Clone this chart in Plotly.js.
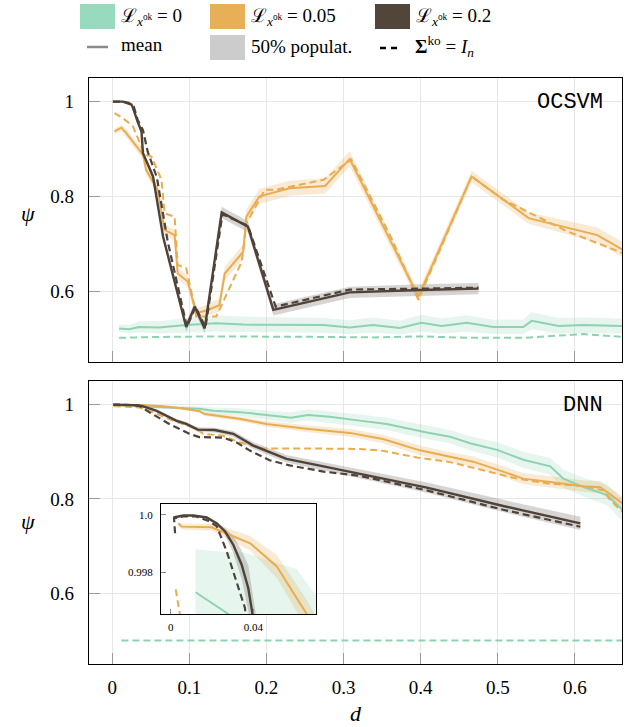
<!DOCTYPE html>
<html><head><meta charset="utf-8">
<script src="https://cdn.plot.ly/plotly-3.0.1.min.js"></script>
<style>html,body{margin:0;padding:0;background:#fff}</style>
</head><body>
<div id="chart" style="width:638px;height:727px"></div>
<script>
// ---------- tick labels ----------
const xTicks = [0, 0.1, 0.2, 0.3, 0.4, 0.5, 0.6];
const xTickText = ['0', '0.1', '0.2', '0.3', '0.4', '0.5', '0.6'];
const yTicks = [0.6, 0.8, 1.0];
const yTickText = ['0.6', '0.8', '1'];
const insetXTicks = [0, 0.04];
const insetXTickText = ['0', '0.04'];
const insetYTicks = [0.998, 1.0];
const insetYTickText = ['0.998', '1.0'];

// ---------- OCSVM panel ----------
const ocsvm_d_L0 = [0.009, 0.022, 0.035, 0.061, 0.096, 0.135, 0.170, 0.230, 0.274, 0.308, 0.338, 0.373, 0.401, 0.427, 0.460, 0.494, 0.533, 0.544, 0.579, 0.611, 0.662];
const ocsvm_mean_L0 = [0.521, 0.519, 0.524, 0.523, 0.528, 0.532, 0.529, 0.528, 0.528, 0.523, 0.528, 0.522, 0.533, 0.526, 0.533, 0.524, 0.524, 0.537, 0.526, 0.528, 0.526];
const ocsvm_lo_L0 = [0.514, 0.511, 0.513, 0.510, 0.512, 0.514, 0.513, 0.513, 0.512, 0.509, 0.512, 0.508, 0.514, 0.510, 0.514, 0.509, 0.509, 0.519, 0.510, 0.511, 0.510];
const ocsvm_hi_L0 = [0.529, 0.528, 0.536, 0.536, 0.543, 0.548, 0.546, 0.544, 0.543, 0.538, 0.544, 0.537, 0.550, 0.542, 0.549, 0.539, 0.540, 0.555, 0.543, 0.544, 0.542];
const ocsvm_d_L0_id = [0.009, 0.061, 0.135, 0.200, 0.274, 0.338, 0.401, 0.466, 0.533, 0.611, 0.662];
const ocsvm_id_L0 = [0.501, 0.503, 0.504, 0.504, 0.503, 0.502, 0.504, 0.501, 0.501, 0.509, 0.503];

const ocsvm_d_L05 = [0.003, 0.012, 0.018, 0.040, 0.044, 0.059, 0.068, 0.081, 0.085, 0.098, 0.109, 0.124, 0.139, 0.146, 0.170, 0.174, 0.191, 0.230, 0.276, 0.308, 0.397, 0.466, 0.540, 0.629, 0.662];
const ocsvm_mean_L05 = [0.937, 0.945, 0.934, 0.888, 0.856, 0.814, 0.729, 0.718, 0.637, 0.620, 0.553, 0.560, 0.570, 0.637, 0.683, 0.757, 0.800, 0.817, 0.822, 0.879, 0.588, 0.842, 0.754, 0.718, 0.687];
const ocsvm_lo_L05 = [0.931, 0.938, 0.926, 0.878, 0.846, 0.804, 0.717, 0.706, 0.625, 0.608, 0.543, 0.548, 0.556, 0.622, 0.668, 0.742, 0.784, 0.801, 0.806, 0.863, 0.576, 0.830, 0.742, 0.702, 0.671];
const ocsvm_hi_L05 = [0.943, 0.952, 0.942, 0.898, 0.866, 0.824, 0.741, 0.730, 0.649, 0.632, 0.563, 0.572, 0.584, 0.652, 0.698, 0.772, 0.816, 0.833, 0.838, 0.895, 0.600, 0.854, 0.766, 0.734, 0.703];
const ocsvm_d_L05_id = [0.003, 0.014, 0.027, 0.042, 0.051, 0.064, 0.068, 0.081, 0.085, 0.096, 0.105, 0.109, 0.135, 0.168, 0.174, 0.198, 0.213, 0.274, 0.310, 0.362, 0.397, 0.466, 0.507, 0.590, 0.662];
const ocsvm_id_L05 = [0.976, 0.965, 0.948, 0.888, 0.884, 0.835, 0.764, 0.757, 0.655, 0.648, 0.581, 0.546, 0.546, 0.662, 0.743, 0.814, 0.814, 0.835, 0.878, 0.712, 0.582, 0.842, 0.793, 0.726, 0.680];

const ocsvm_d_L2 = [0.001, 0.014, 0.025, 0.027, 0.033, 0.038, 0.040, 0.053, 0.066, 0.096, 0.107, 0.120, 0.142, 0.176, 0.209, 0.308, 0.400, 0.475];
const ocsvm_mean_L2 = [1.000, 1.000, 0.994, 0.987, 0.958, 0.937, 0.891, 0.842, 0.715, 0.524, 0.567, 0.521, 0.766, 0.736, 0.560, 0.597, 0.602, 0.605];
const ocsvm_lo_L2 = [0.999, 0.999, 0.992, 0.984, 0.954, 0.932, 0.885, 0.835, 0.707, 0.514, 0.557, 0.511, 0.754, 0.724, 0.548, 0.585, 0.590, 0.593];
const ocsvm_hi_L2 = [1.001, 1.001, 0.996, 0.990, 0.962, 0.942, 0.897, 0.849, 0.723, 0.534, 0.577, 0.531, 0.778, 0.748, 0.572, 0.609, 0.614, 0.617];
const ocsvm_d_L2_id = [0.001, 0.014, 0.022, 0.028, 0.033, 0.040, 0.046, 0.058, 0.072, 0.097, 0.108, 0.121, 0.143, 0.176, 0.212, 0.308, 0.400, 0.475];
const ocsvm_id_L2 = [1.000, 1.000, 0.997, 0.990, 0.962, 0.940, 0.895, 0.840, 0.705, 0.524, 0.567, 0.523, 0.762, 0.738, 0.567, 0.603, 0.605, 0.607];

// ---------- DNN panel ----------
const dnn_d_L0 = [0.012, 0.028, 0.035, 0.061, 0.069, 0.113, 0.131, 0.165, 0.200, 0.232, 0.254, 0.282, 0.321, 0.356, 0.408, 0.438, 0.464, 0.499, 0.533, 0.568, 0.585, 0.611, 0.642, 0.662];
const dnn_mean_L0 = [0.9973, 0.9965, 0.9962, 0.9951, 0.9943, 0.991, 0.987, 0.984, 0.978, 0.972, 0.978, 0.974, 0.966, 0.959, 0.941, 0.932, 0.918, 0.904, 0.883, 0.869, 0.843, 0.825, 0.808, 0.776];
const dnn_lo_L0 = [0.9958, 0.9943, 0.9937, 0.9921, 0.9913, 0.986, 0.980, 0.976, 0.968, 0.961, 0.966, 0.962, 0.953, 0.946, 0.927, 0.918, 0.903, 0.888, 0.866, 0.851, 0.824, 0.805, 0.786, 0.752];
const dnn_hi_L0 = [0.9988, 0.9987, 0.9987, 0.9981, 0.9973, 0.996, 0.994, 0.992, 0.988, 0.983, 0.990, 0.986, 0.979, 0.972, 0.955, 0.946, 0.933, 0.920, 0.900, 0.887, 0.862, 0.845, 0.830, 0.800];
const dnn_d_L0_id = [0.012, 0.1, 0.2, 0.3, 0.4, 0.5, 0.6, 0.662];
const dnn_id_L0 = [0.5, 0.5, 0.5, 0.5, 0.5, 0.5, 0.5, 0.5];

const dnn_d_L05 = [0.0037, 0.0053, 0.0198, 0.0271, 0.0384, 0.0513, 0.0658, 0.090, 0.113, 0.120, 0.165, 0.200, 0.252, 0.308, 0.351, 0.399, 0.434, 0.468, 0.503, 0.533, 0.568, 0.611, 0.633, 0.662];
const dnn_mean_L05 = [0.9997, 0.99959, 0.99957, 0.99936, 0.99901, 0.9982, 0.99653, 0.992, 0.986, 0.980, 0.970, 0.959, 0.949, 0.940, 0.927, 0.903, 0.890, 0.879, 0.860, 0.843, 0.836, 0.827, 0.825, 0.790];
const dnn_lo_L05 = [0.99965, 0.99949, 0.99945, 0.99918, 0.99876, 0.9978, 0.99603, 0.990, 0.983, 0.976, 0.965, 0.953, 0.942, 0.932, 0.918, 0.893, 0.880, 0.868, 0.849, 0.831, 0.824, 0.815, 0.812, 0.776];
const dnn_hi_L05 = [0.99975, 0.99969, 0.99969, 0.99954, 0.99926, 0.9986, 0.99703, 0.994, 0.989, 0.984, 0.975, 0.965, 0.956, 0.948, 0.936, 0.913, 0.900, 0.890, 0.871, 0.855, 0.848, 0.839, 0.838, 0.804];
const dnn_d_L05_id = [0.0024, 0.0045, 0.035, 0.048, 0.079, 0.109, 0.118, 0.144, 0.165, 0.196, 0.250, 0.321, 0.351, 0.395, 0.438, 0.481, 0.525, 0.568, 0.611, 0.637, 0.646, 0.662];
const dnn_id_L05 = [0.9974, 0.9965, 0.994, 0.987, 0.966, 0.949, 0.938, 0.934, 0.920, 0.907, 0.907, 0.906, 0.902, 0.888, 0.878, 0.860, 0.843, 0.832, 0.827, 0.818, 0.797, 0.772];

const dnn_d_L2 = [0.0013, 0.0061, 0.011, 0.0174, 0.0223, 0.0263, 0.0303, 0.0343, 0.0375, 0.0392, 0.057, 0.083, 0.096, 0.111, 0.133, 0.157, 0.183, 0.226, 0.274, 0.321, 0.408, 0.507, 0.607];
const dnn_mean_L2 = [0.99991, 0.99998, 0.99998, 0.99991, 0.9997, 0.99942, 0.99895, 0.99826, 0.99744, 0.99653, 0.987, 0.966, 0.959, 0.947, 0.946, 0.938, 0.913, 0.885, 0.869, 0.853, 0.824, 0.785, 0.748];
const dnn_lo_L2 = [0.99989, 0.99996, 0.99996, 0.99988, 0.99965, 0.99930, 0.99865, 0.99776, 0.99664, 0.99553, 0.984, 0.962, 0.955, 0.942, 0.941, 0.932, 0.906, 0.877, 0.860, 0.843, 0.813, 0.772, 0.734];
const dnn_hi_L2 = [0.99993, 1.00000, 1.00000, 0.99994, 0.99975, 0.99954, 0.99925, 0.99876, 0.99824, 0.99753, 0.990, 0.970, 0.963, 0.952, 0.951, 0.944, 0.920, 0.893, 0.878, 0.863, 0.835, 0.798, 0.762];
const dnn_d_L2_id = [0.0021, 0.0016, 0.006, 0.012, 0.018, 0.0223, 0.0271, 0.0319, 0.0359, 0.048, 0.074, 0.100, 0.113, 0.144, 0.161, 0.178, 0.204, 0.230, 0.274, 0.321, 0.408, 0.507, 0.607];
const dnn_id_L2 = [0.99936, 0.99988, 0.99995, 0.99995, 0.9998, 0.9996, 0.99872, 0.99767, 0.99675, 0.984, 0.959, 0.938, 0.931, 0.930, 0.920, 0.903, 0.882, 0.871, 0.858, 0.849, 0.818, 0.777, 0.741];

// ---------- styles ----------
const C_GREEN = '#8dd3b2', C_ORANGE = '#e9ac50', C_DARK = '#4f4239';
const F_GREEN = 'rgba(141,211,178,0.22)', F_ORANGE = 'rgba(233,172,80,0.25)', F_DARK = 'rgba(120,115,108,0.30)';
const SERIF = "'Liberation Serif', 'DejaVu Serif', serif";
const MONO = "'Liberation Mono', 'DejaVu Sans Mono', monospace";
const DASH = '7px,4px';

function line(x, y, color, dash, xa, ya, w) {
  return {type: 'scatter', mode: 'lines', x: x, y: y, xaxis: xa, yaxis: ya,
    line: {color: color, width: w, dash: dash}, hoverinfo: 'skip', showlegend: false};
}
function band(x, lo, hi, fill, xa, ya) {
  return {type: 'scatter', mode: 'lines', x: x.concat(x.slice().reverse()),
    y: hi.concat(lo.slice().reverse()), fill: 'toself', fillcolor: fill,
    line: {width: 0}, xaxis: xa, yaxis: ya, hoverinfo: 'skip', showlegend: false};
}

const traces = [];
traces.push(band(ocsvm_d_L0, ocsvm_lo_L0, ocsvm_hi_L0, F_GREEN, 'x', 'y'));
traces.push(band(ocsvm_d_L05, ocsvm_lo_L05, ocsvm_hi_L05, F_ORANGE, 'x', 'y'));
traces.push(band(ocsvm_d_L2, ocsvm_lo_L2, ocsvm_hi_L2, F_DARK, 'x', 'y'));
traces.push(line(ocsvm_d_L0_id, ocsvm_id_L0, C_GREEN, DASH, 'x', 'y', 2));
traces.push(line(ocsvm_d_L0, ocsvm_mean_L0, C_GREEN, 'solid', 'x', 'y', 2));
traces.push(line(ocsvm_d_L05_id, ocsvm_id_L05, C_ORANGE, DASH, 'x', 'y', 2));
traces.push(line(ocsvm_d_L05, ocsvm_mean_L05, C_ORANGE, 'solid', 'x', 'y', 2));
traces.push(line(ocsvm_d_L2_id, ocsvm_id_L2, C_DARK, DASH, 'x', 'y', 2.2));
traces.push(line(ocsvm_d_L2, ocsvm_mean_L2, C_DARK, 'solid', 'x', 'y', 2.4));
[['x2', 'y2'], ['x3', 'y3']].forEach(function (ax) {
  const xa = ax[0], ya = ax[1];
  traces.push(band(dnn_d_L0, dnn_lo_L0, dnn_hi_L0, F_GREEN, xa, ya));
  traces.push(band(dnn_d_L05, dnn_lo_L05, dnn_hi_L05, F_ORANGE, xa, ya));
  traces.push(band(dnn_d_L2, dnn_lo_L2, dnn_hi_L2, F_DARK, xa, ya));
  traces.push(line(dnn_d_L0_id, dnn_id_L0, C_GREEN, DASH, xa, ya, 2));
  traces.push(line(dnn_d_L0, dnn_mean_L0, C_GREEN, 'solid', xa, ya, 2));
  traces.push(line(dnn_d_L05_id, dnn_id_L05, C_ORANGE, DASH, xa, ya, 2));
  traces.push(line(dnn_d_L05, dnn_mean_L05, C_ORANGE, 'solid', xa, ya, 2));
  traces.push(line(dnn_d_L2_id, dnn_id_L2, C_DARK, DASH, xa, ya, 2.2));
  traces.push(line(dnn_d_L2, dnn_mean_L2, C_DARK, 'solid', xa, ya, 2.4));
});

// ---------- layout ----------
const W = 638, H = 727, ML = 89, MR = 16, MT = 78, MB = 63;
const PW = W - ML - MR, PH = H - MT - MB;
const px = v => (v - ML) / PW;
const py = v => (H - MB - v) / PH;

function mainX(anchor, labels) {
  return {anchor: anchor, domain: [0, 1], range: [-0.03, 0.661], tickmode: 'array',
    tickvals: xTicks, ticktext: xTickText, showticklabels: labels,
    ticks: 'inside', ticklen: 11, tickwidth: 1, tickcolor: '#9a9a9a',
    showgrid: true, gridcolor: '#e7e7e7', gridwidth: 1, zeroline: false,
    showline: true, linecolor: '#000', linewidth: 1.2, mirror: true,
    tickfont: {family: SERIF, size: 19, color: '#000'}, ticklabelstandoff: 6};
}
function mainY(anchor, domain) {
  return {anchor: anchor, domain: domain, range: [0.45, 1.05], tickmode: 'array',
    tickvals: yTicks, ticktext: yTickText,
    ticks: 'inside', ticklen: 11, tickwidth: 1, tickcolor: '#9a9a9a',
    showgrid: true, gridcolor: '#e7e7e7', gridwidth: 1, zeroline: false,
    showline: true, linecolor: '#000', linewidth: 1.2, mirror: true,
    tickfont: {family: SERIF, size: 19, color: '#000'}, ticklabelstandoff: 10};
}

const shapes = [
  {type: 'rect', xref: 'x3 domain', yref: 'y3 domain', x0: 0, x1: 1, y0: 0, y1: 1,
    fillcolor: '#f0f0f0', line: {width: 0}, layer: 'below'},
  {type: 'rect', xref: 'paper', yref: 'paper', x0: px(80), x1: px(115), y0: py(29), y1: py(4), fillcolor: '#98dabd', line: {width: 0}},
  {type: 'rect', xref: 'paper', yref: 'paper', x0: px(210), x1: px(245), y0: py(29), y1: py(4), fillcolor: '#e8b056', line: {width: 0}},
  {type: 'rect', xref: 'paper', yref: 'paper', x0: px(375), x1: px(410), y0: py(29), y1: py(4), fillcolor: '#52453a', line: {width: 0}},
  {type: 'rect', xref: 'paper', yref: 'paper', x0: px(210), x1: px(245), y0: py(60), y1: py(35), fillcolor: '#cccccc', line: {width: 0}},
  {type: 'line', xref: 'paper', yref: 'paper', x0: px(87), x1: px(108), y0: py(47), y1: py(47), line: {color: '#8a8a8a', width: 2.5}},
  {type: 'line', xref: 'paper', yref: 'paper', x0: px(380), x1: px(386), y0: py(48), y1: py(48), line: {color: '#000', width: 2.5}},
  {type: 'line', xref: 'paper', yref: 'paper', x0: px(391), x1: px(397), y0: py(48), y1: py(48), line: {color: '#000', width: 2.5}}
];

function txt(text, x, y, opts) {
  return Object.assign({xref: 'paper', yref: 'paper', x: px(x), y: py(y), text: text,
    showarrow: false, xanchor: 'left', yanchor: 'middle',
    font: {family: SERIF, size: 19, color: '#000'}}, opts || {});
}
const Lx = 'ℒ<sub><i>x</i><sup>ok</sup></sub>';
const annotations = [
  txt(Lx + ' = 0', 119, 17),
  txt(Lx + ' = 0.05', 249, 17),
  txt(Lx + ' = 0.2', 414, 17),
  txt('mean', 119, 45),
  txt('50% populat.', 249, 46),
  txt('<b>Σ</b><sup>ko</sup> = <i>I</i><sub><i>n</i></sub>', 413, 46),
  txt('OCSVM', 605, 103, {xanchor: 'right', font: {family: MONO, size: 22, color: '#000'}}),
  txt('DNN', 605, 405, {xanchor: 'right', font: {family: MONO, size: 22, color: '#000'}}),
  txt('<i>ψ</i>', 28, 213, {xanchor: 'center', font: {family: SERIF, size: 22, color: '#000'}}),
  txt('<i>ψ</i>', 28, 521, {xanchor: 'center', font: {family: SERIF, size: 22, color: '#000'}}),
  txt('<i>d</i>', 356, 713, {xanchor: 'center', font: {family: SERIF, size: 22, color: '#000'}})
];

const layout = {
  width: W, height: H, margin: {l: ML, r: MR, t: MT, b: MB, pad: 0},
  paper_bgcolor: '#fff', plot_bgcolor: '#fff', showlegend: false,
  font: {family: SERIF},
  xaxis: mainX('y', false),
  yaxis: mainY('x', [py(362), 1]),
  xaxis2: mainX('y2', true),
  yaxis2: mainY('x2', [0, py(381)]),
  xaxis3: {anchor: 'y3', domain: [px(161), px(315.7)], range: [-0.0047, 0.0701], tickmode: 'array',
    tickvals: insetXTicks, ticktext: insetXTickText, ticks: 'inside', ticklen: 5, tickcolor: '#888',
    showgrid: true, gridcolor: '#ffffff', gridwidth: 1, zeroline: false,
    showline: true, linecolor: '#000', linewidth: 1, mirror: true,
    tickfont: {family: SERIF, size: 11, color: '#000'}, ticklabelstandoff: 2},
  yaxis3: {anchor: 'x3', domain: [py(614.3), py(504)], range: [0.99653, 1.00038], tickmode: 'array',
    tickvals: insetYTicks, ticktext: insetYTickText, ticks: 'inside', ticklen: 5, tickcolor: '#888',
    showgrid: true, gridcolor: '#ffffff', gridwidth: 1, zeroline: false,
    showline: true, linecolor: '#000', linewidth: 1, mirror: true,
    tickfont: {family: SERIF, size: 11, color: '#000'}, ticklabelstandoff: 5},
  shapes: shapes,
  annotations: annotations
};

Plotly.newPlot('chart', traces, layout, {staticPlot: true, displayModeBar: false});
</script>
</body></html>
